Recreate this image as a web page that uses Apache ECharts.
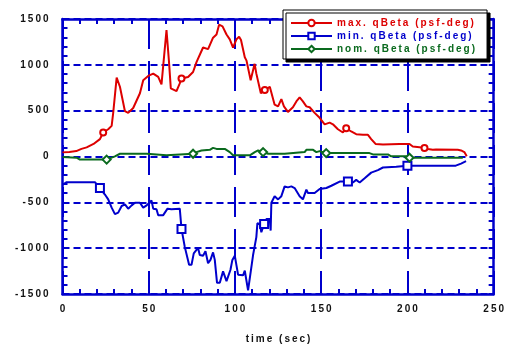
<!DOCTYPE html>
<html>
<head>
<meta charset="utf-8">
<script src="https://cdn.jsdelivr.net/npm/echarts@6/dist/echarts.min.js"></script>
<style>
html, body { margin: 0; padding: 0; background: #fff; }
#chart { width: 507px; height: 349px; }
</style>
</head>
<body>
<div id="chart"></div>
<script>
// time (sec) / value pairs
var maxT = [0, 4, 8, 11, 14, 18, 21.7, 23.6, 26.5, 27.5, 28.5, 29.4, 31.4, 33.3, 36.2, 38.1, 41, 44.9, 46.8, 49.7, 52.6, 55.5, 57.4, 58.5, 60.3, 61.7, 62.8, 66.1, 68, 69, 72.8, 75.7, 77.7, 81.5, 84.4, 87.3, 89.3, 90.8, 92.8, 95.1, 97, 98.9, 100.9, 102.4, 103.5, 105.7, 106.7, 109.1, 111.4, 112.4, 115, 117.3, 120.2, 123, 125, 126.9, 128.4, 130.7, 133.6, 135.6, 137.5, 139.4, 141.4, 143.3, 146.2, 149.1, 152, 154.9, 156.8, 159.7, 162.6, 164.5, 167.4, 170.3, 174.2, 177.1, 179, 181.5, 185.8, 195.4, 201.2, 203.1, 207, 209.9, 211.8, 214.7, 216.6, 229.2, 231.1, 233, 234.4];
var maxV = [45, 50, 59, 83, 100, 137, 190, 262, 297, 315, 334, 476, 861, 761, 494, 476, 529, 690, 832, 879, 904, 868, 786, 773, 1378, 1046, 743, 714, 797, 850, 868, 922, 1029, 1189, 1171, 1296, 1331, 1438, 1420, 1331, 1278, 1189, 1280, 1307, 1270, 1082, 1046, 832, 1011, 904, 690, 725, 761, 565, 547, 626, 547, 486, 537, 601, 644, 601, 547, 537, 476, 422, 351, 369, 351, 297, 262, 308, 273, 244, 237, 237, 190, 137, 130, 137, 137, 109, 102, 94, 83, 73, 77, 73, 66, 48, 2];

var minT = [0, 2.4, 18.8, 21.7, 24.6, 26.5, 28.5, 30.4, 32.3, 34.3, 36.2, 38.1, 40.1, 42, 44.9, 46.8, 48.8, 51.6, 52.6, 54.5, 55.5, 58.4, 59.4, 60.9, 63.2, 68, 69, 70.9, 73.4, 74.8, 76.1, 78.6, 79.6, 81.5, 82.9, 84.4, 85.8, 87.3, 88.3, 89.6, 91.2, 93.1, 95.1, 97.4, 98.5, 99.9, 101.8, 104.7, 105.7, 107.6, 110.5, 112.4, 113, 114.4, 115.3, 116.9, 118.2, 120.2, 120.7, 121.1, 123, 125, 126.9, 128.8, 130.7, 132.7, 134.6, 137.5, 139.4, 141.4, 142.3, 146.2, 149.1, 153, 155.9, 160.7, 165.5, 168.4, 170.3, 172.3, 175.2, 179, 182.9, 185.8, 193.5, 200, 228, 231.1, 234];
var minV = [-308, -280, -280, -344, -415, -468, -558, -629, -612, -540, -522, -569, -533, -505, -505, -558, -533, -479, -569, -575, -640, -640, -655, -569, -575, -569, -790, -986, -1182, -1182, -1057, -997, -1075, -1082, -1032, -1164, -1128, -1046, -1128, -1378, -1378, -1253, -1360, -1235, -1128, -1082, -1289, -1296, -1246, -1460, -1075, -879, -729, -736, -826, -736, -683, -683, -808, -505, -433, -468, -433, -326, -337, -326, -344, -433, -468, -362, -398, -398, -355, -344, -319, -273, -273, -283, -255, -283, -237, -176, -148, -120, -112, -100, -100, -77, -51];

var nomT = [0, 8.2, 10.1, 25.6, 28.5, 30.4, 33.3, 48.8, 49.7, 60.3, 61.3, 75.7, 77.7, 80.6, 85.4, 87.3, 89.3, 94.1, 97, 98.9, 108.6, 111.5, 113.4, 116.3, 119.2, 128.8, 129.8, 140.4, 141.4, 145.3, 147.2, 149.1, 151, 152.9, 178, 180, 188.7, 190.6, 199.3, 201.2, 232.1];
var nomV = [-5, -13, -34, -34, -13, 2, 30, 30, 13, 13, 30, 30, 48, 66, 73, 94, 83, 83, 48, 13, 13, 48, 66, 48, 30, 30, 48, 48, 73, 73, 48, 59, 48, 37, 37, 23, 23, 2, 2, -13, -13];

// where the symbols sit along each curve
var markerT = [23, 69.5, 116.5, 164, 210.5];

var seriesNames = ['max. qBeta (psf-deg)', 'min. qBeta (psf-deg)', 'nom. qBeta (psf-deg)'];

var red = '#dd0000', blue = '#0000cc', green = '#0a6a1e';

function spaced(s) {
  return String(s).split('').join('\u2009');
}

function build(ts, vs) {
  var marks = markerT.map(function(m) {
    var best = 0;
    ts.forEach(function(t, i) {
      if (Math.abs(t - m) < Math.abs(ts[best] - m)) best = i;
    });
    return best;
  });
  return ts.map(function(t, i) {
    var item = { value: [t, vs[i]] };
    if (marks.indexOf(i) < 0) item.symbol = 'none';
    return item;
  });
}

var tickStyle = { color: blue, width: 2 };
var labelFont = { color: '#111', fontWeight: 'bold', fontSize: 10, fontFamily: 'Liberation Sans' };

function axis(extra) {
  var base = {
    type: 'value',
    axisLine: { show: true, onZero: false, lineStyle: { color: blue, width: 2.5 } },
    axisTick: { show: true, inside: true, length: 5, lineStyle: tickStyle },
    minorTick: { show: true, splitNumber: 5, length: 5, lineStyle: tickStyle },
    splitLine: { show: false },
    axisLabel: { show: false }
  };
  return Object.assign(base, extra);
}

var chart = echarts.init(document.getElementById('chart'));
chart.setOption({
  animation: false,
  backgroundColor: '#fff',
  grid: { left: 62.5, right: 12, top: 19, bottom: 48 },
  legend: {
    orient: 'vertical',
    left: 283,
    top: 10,
    itemWidth: 41,
    itemHeight: 8,
    itemGap: 3,
    padding: [8, 12, 5, 7],
    backgroundColor: '#fff',
    borderColor: '#000',
    borderWidth: 1,
    shadowColor: '#000',
    shadowOffsetX: 3,
    shadowOffsetY: 3,
    shadowBlur: 0,
    formatter: function(name) { return spaced(name); },
    textStyle: { fontWeight: 'bold', fontSize: 10, fontFamily: 'Liberation Sans' },
    data: [
      { name: seriesNames[0], textStyle: { color: red } },
      { name: seriesNames[1], textStyle: { color: blue } },
      { name: seriesNames[2], textStyle: { color: green } }
    ]
  },
  xAxis: [
    axis({
      position: 'bottom', min: 0, max: 250, interval: 50,
      name: spaced('time (sec)'), nameLocation: 'middle', nameGap: 40,
      nameTextStyle: labelFont,
      axisLabel: Object.assign({ show: true, margin: 10, formatter: spaced }, labelFont),
      splitLine: { show: true, lineStyle: { color: blue, width: 2, type: [30, 12] } }
    }),
    axis({ position: 'top', min: 0, max: 250, interval: 50 })
  ],
  yAxis: [
    axis({
      position: 'left', min: -1500, max: 1500, interval: 500,
      axisLabel: Object.assign({ show: true, margin: 14, formatter: spaced }, labelFont),
      splitLine: { show: true, lineStyle: { color: blue, width: 2, type: [7, 4] } }
    }),
    axis({ position: 'right', min: -1500, max: 1500, interval: 500 })
  ],
  series: [
    {
      name: seriesNames[0], type: 'line', data: build(maxT, maxV),
      symbol: 'emptyCircle', symbolSize: 6, showSymbol: true,
      color: red, lineStyle: { width: 2, color: red }, itemStyle: { color: red, borderWidth: 1.5 }
    },
    {
      name: seriesNames[1], type: 'line', data: build(minT, minV),
      symbol: 'emptyRect', symbolSize: 8, showSymbol: true,
      color: blue, lineStyle: { width: 2, color: blue }, itemStyle: { color: blue, borderWidth: 1.5 }
    },
    {
      name: seriesNames[2], type: 'line', data: build(nomT, nomV),
      symbol: 'emptyDiamond', symbolSize: 8, showSymbol: true,
      color: green, lineStyle: { width: 2, color: green }, itemStyle: { color: green, borderWidth: 1.5 }
    }
  ]
});
</script>
</body>
</html>
